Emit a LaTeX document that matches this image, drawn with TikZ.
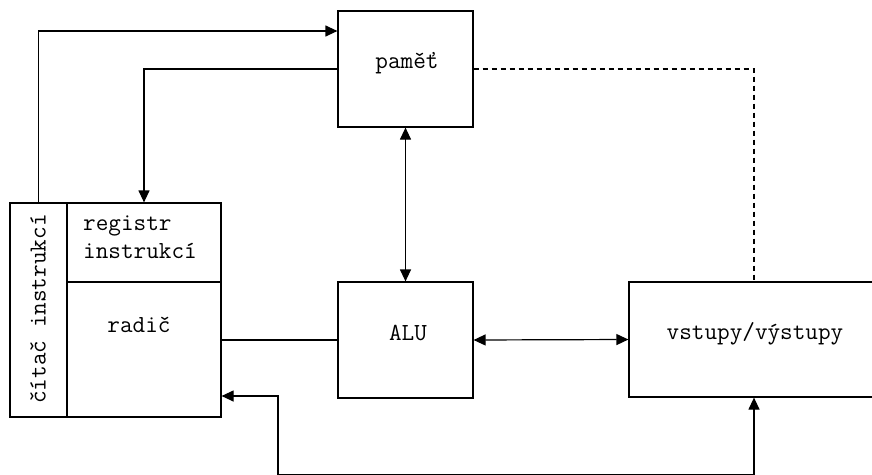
\documentclass[tikz,border=0pt]{standalone}
\usepackage{fontspec}
\usetikzlibrary{arrows.meta}
\begin{document}
\begin{tikzpicture}[x=1pt,y=-1pt,
  box/.style={draw, line width=1.2pt, inner sep=0pt, minimum width=#1},
  lbl/.style={font=\ttfamily\fontsize{24.5}{28}\selectfont, inner sep=0pt},
  conn/.style={line width=1.2pt},
  tip/.style={-{Triangle[length=12pt,width=11pt]}},
  dtip/.style={{Triangle[length=12pt,width=11pt]}-{Triangle[length=12pt,width=11pt]}}]
\useasboundingbox (0,0) rectangle (872,474);
\clip (0,0) rectangle (872,474);

% control unit block: program counter, instruction register, controller
\node[box=57pt, minimum height=214pt] (counter) at (38.5,310) {};
\node[box=154pt, minimum height=79pt] (reg) at (144,242.5) {};
\node[box=154pt, minimum height=135pt] (ctrl) at (144,349.5) {};

% memory, ALU, I/O
\node[box=135pt, minimum height=116pt] (mem) at (405.5,69) {};
\node[box=135pt, minimum height=116pt] (alu) at (405.5,340) {};
\node[box=250pt, minimum height=115pt] (io) at (754,339.5) {};

% labels
\node[lbl, rotate=90] (tcounter) at (38,309) {čítač instrukcí};
\node[lbl, anchor=base west, align=left] (treg) at (83,258) {registr\\instrukcí};
\node[lbl, anchor=base] (tctrl) at (139,332) {radič};
\node[lbl, anchor=base] (tmem) at (407,68) {paměť};
\node[lbl, anchor=base] (talu) at (408,340) {ALU};
\node[lbl, anchor=base] (tio) at (755,339) {vstupy/výstupy};

% connectors
\draw[conn, tip] (counter.north) |- ([yshift=38pt]mem.west);
\draw[conn, tip] (mem.west) -| (reg.north);
\draw[conn, dtip] (mem.south) -- (alu.north);
\draw[conn] (ctrl.east |- alu.west) -- (alu.west);
\draw[conn, dtip] (alu.east) -- (io.west);
\draw[conn, dashed, dash pattern=on 5pt off 4pt] (mem.east) -| (io.north);
\coordinate (bend) at (278,474.2);
\draw[conn, dtip] ([yshift=-46.5pt]ctrl.east) -| (bend) -| (io.south);
\end{tikzpicture}
\end{document}
